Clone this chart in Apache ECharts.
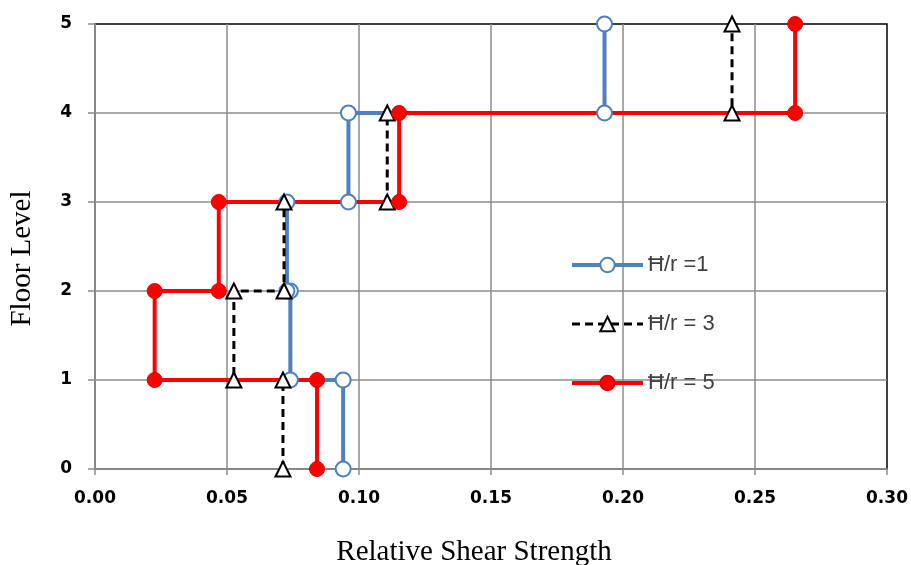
<!DOCTYPE html>
<html>
<head>
<meta charset="utf-8">
<script src="https://cdn.jsdelivr.net/npm/echarts@6/dist/echarts.min.js"></script>
<style>
  html, body { margin: 0; padding: 0; background: #fff; }
  #chart { width: 911px; height: 565px; }
</style>
</head>
<body>
<div id="chart"></div>
<script>
// step profiles: [strength, floor]
const seriesNames = ['Ħ/r =1', 'Ħ/r = 3', 'Ħ/r = 5']
const hr1 = [[0.094, 0], [0.094, 1], [0.074, 1], [0.074, 2], [0.0727, 2], [0.0727, 3], [0.096, 3], [0.096, 4], [0.193, 4], [0.193, 5]]
const hr3 = [[0.0712, 0], [0.0712, 1], [0.0526, 1], [0.0526, 2], [0.0716, 2], [0.0716, 3], [0.1107, 3], [0.1107, 4], [0.2413, 4], [0.2413, 5]]
const hr5 = [[0.0841, 0], [0.0841, 1], [0.0226, 1], [0.0226, 2], [0.0469, 2], [0.0469, 3], [0.1152, 3], [0.1152, 4], [0.2652, 4], [0.2652, 5]]

const chart = echarts.init(document.getElementById('chart'))

const gridGray = '#8c8c8c'
const tickFont = { fontFamily: 'DejaVu Sans', fontWeight: 'bold', fontSize: 17, color: '#000' }
const titleFont = { fontFamily: 'Liberation Serif', fontSize: 29, color: '#000' }

chart.setOption({
  animation: false,
  grid: {
    left: 95, right: 24, top: 24, bottom: 96,
    outerBoundsMode: 'none',
    show: true, borderColor: '#000', borderWidth: 1.5
  },
  legend: {
    orient: 'vertical',
    left: 565, top: 249,
    itemWidth: 71, itemHeight: 18, itemGap: 37,
    textStyle: { fontFamily: 'Liberation Sans', fontSize: 22, color: '#404040' },
    data: [
      { name: seriesNames[0], lineStyle: { width: 4 } },
      { name: seriesNames[1], lineStyle: { width: 3 } },
      { name: seriesNames[2], lineStyle: { width: 4 } }
    ]
  },
  xAxis: {
    type: 'value',
    min: 0, max: 0.3, interval: 0.05,
    name: 'Relative Shear Strength',
    nameLocation: 'middle', nameGap: 69,
    nameTextStyle: Object.assign({ padding: [0, 34, 0, 0] }, titleFont),
    axisLine: { show: true, lineStyle: { color: gridGray, width: 1.5 } },
    axisTick: { show: true, length: 6, lineStyle: { color: gridGray, width: 1.5 } },
    axisLabel: Object.assign({ margin: 21, formatter: v => v.toFixed(2) }, tickFont),
    splitLine: { show: true, showMaxLine: false, lineStyle: { color: gridGray, width: 1.5 } }
  },
  yAxis: {
    type: 'value',
    min: 0, max: 5, interval: 1,
    name: 'Floor Level',
    nameLocation: 'middle', nameGap: 58,
    nameTextStyle: Object.assign({ padding: [0, 24, 0, 0] }, titleFont),
    axisLine: { show: true, lineStyle: { color: gridGray, width: 1.5 } },
    axisTick: { show: true, length: 7, lineStyle: { color: gridGray, width: 1.5 } },
    axisLabel: Object.assign({ margin: 23 }, tickFont),
    splitLine: { show: true, showMaxLine: false, lineStyle: { color: gridGray, width: 1.5 } }
  },
  series: [
    {
      name: seriesNames[0], type: 'line', data: hr1,
      symbol: 'circle', symbolSize: 15,
      lineStyle: { color: '#4f81bd', width: 4 },
      itemStyle: { color: '#fff', borderColor: '#4f81bd', borderWidth: 2 }
    },
    {
      name: seriesNames[1], type: 'line', data: hr3,
      symbol: 'triangle', symbolSize: 15,
      lineStyle: { color: '#000', width: 3, type: [8, 5] },
      itemStyle: { color: '#fff', borderColor: '#000', borderWidth: 2 }
    },
    {
      name: seriesNames[2], type: 'line', data: hr5,
      symbol: 'circle', symbolSize: 15,
      lineStyle: { color: '#ff0000', width: 4 },
      itemStyle: { color: '#ff0000', borderColor: '#e00000', borderWidth: 1 }
    }
  ]
})
</script>
</body>
</html>
